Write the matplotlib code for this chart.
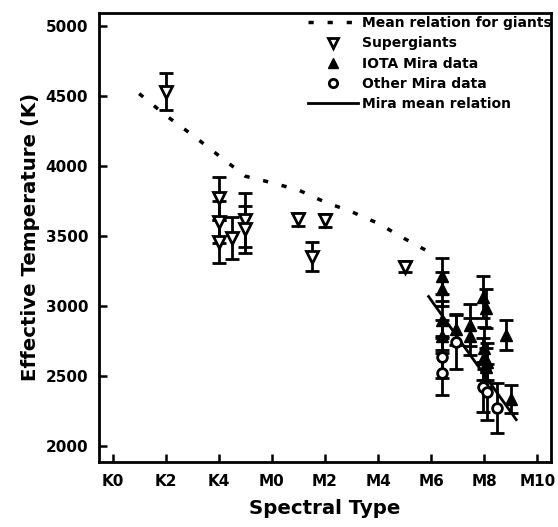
import matplotlib
matplotlib.use("Agg")
import matplotlib.pyplot as plt
from matplotlib.lines import Line2D

plt.rcParams['font.family'] = ['DejaVu Sans']
plt.rcParams['font.weight'] = 'bold'

# Spectral type axis: K0=0 ... K5=5, M0=6 ... M10=16
tick_pos = [0, 2, 4, 6, 8, 10, 12, 14, 16]
tick_labels = ["K0", "K2", "K4", "M0", "M2", "M4", "M6", "M8", "M10"]
ytick_vals = [2000, 2500, 3000, 3500, 4000, 4500, 5000]

# Mean relation for giants
giant_x = [1, 2, 3, 4, 5, 6, 7, 8, 9, 10, 11, 12]
giant_t = [4515, 4360, 4220, 4072, 3925, 3878, 3826, 3740, 3671, 3588, 3478, 3375]

# Supergiants
sg_x = [2.0, 4.0, 4.0, 4.0, 4.5, 5.0, 5.0, 7.0, 7.5, 8.0, 11.0]
sg_t = [4530, 3767, 3600, 3457, 3481, 3612, 3545, 3617, 3350, 3610, 3279]
sg_e = [135, 155, 150, 155, 150, 190, 170, 45, 105, 45, 40]

# IOTA Mira data
iota_x = [12.4, 12.4, 12.4, 12.4, 12.95, 13.45, 13.45, 13.95, 13.95, 14.05, 14.05, 14.0, 14.1, 14.8, 15.0]
iota_t = [3210, 3120, 2900, 2780, 2830, 2860, 2780, 3060, 2620, 2980, 2560, 2700, 2600, 2790, 2330]
iota_e = [130, 120, 130, 120, 110, 150, 130, 150, 150, 140, 140, 150, 130, 110, 100]

# Other Mira data
om_x = [12.4, 12.4, 12.95, 13.95, 14.1, 14.46]
om_t = [2630, 2520, 2740, 2420, 2380, 2270]
om_e = [150, 160, 190, 180, 200, 180]

# Mira mean relation
mira_x = [11.9, 15.2]
mira_t = [3065, 2185]

dot_style = (0, (1.5, 4))

fig = plt.figure(figsize=(5.58, 5.27), dpi=100)
ax = fig.add_axes([0.178, 0.124, 0.809, 0.851])

ax.plot(giant_x, giant_t, color='black', lw=2.5, linestyle=dot_style,
        dash_capstyle='butt')

eb_kw = dict(fmt='none', ecolor='black', elinewidth=2, capsize=4.7, capthick=2, zorder=2)
ax.errorbar(sg_x, sg_t, yerr=sg_e, **eb_kw)
ax.errorbar(iota_x, iota_t, yerr=iota_e, **eb_kw)
ax.errorbar(om_x, om_t, yerr=om_e, **eb_kw)

ax.plot(mira_x, mira_t, color='black', lw=2, zorder=3)

ax.plot(sg_x, sg_t, linestyle='none', marker='v', ms=8, mfc='white', mec='black', mew=2, zorder=4)
ax.plot(iota_x, iota_t, linestyle='none', marker='^', ms=8, mfc='black', mec='black', mew=1, zorder=4)
ax.plot(om_x, om_t, linestyle='none', marker='o', ms=7, mfc='white', mec='black', mew=2, zorder=4)

ax.set_xlim(-0.5, 16.5)
ax.set_ylim(1885, 5090)
ax.set_xticks(tick_pos)
ax.set_xticklabels(tick_labels)
ax.set_yticks(ytick_vals)
ax.tick_params(direction='in', length=6, width=1.8, labelsize=11)
ax.tick_params(axis='x', pad=9)
ax.tick_params(axis='y', pad=8)
for lab in ax.get_xticklabels() + ax.get_yticklabels():
    lab.set_fontweight('bold')
for s in ax.spines.values():
    s.set_linewidth(2)

ax.set_xlabel("Spectral Type", fontsize=14.2, fontweight='bold', labelpad=7)
ax.set_ylabel("Effective Temperature (K)", fontsize=14.2, fontweight='bold', labelpad=4)

handles = [
    Line2D([], [], color='black', lw=2.5, linestyle=dot_style, dash_capstyle='butt'),
    Line2D([], [], linestyle='none', marker='v', ms=7, mfc='white', mec='black', mew=2),
    Line2D([], [], linestyle='none', marker='^', ms=7, mfc='black', mec='black'),
    Line2D([], [], linestyle='none', marker='o', ms=6, mfc='white', mec='black', mew=2),
    Line2D([], [], color='black', lw=2),
]
labels = ["Mean relation for giants", "Supergiants", "IOTA Mira data",
          "Other Mira data", "Mira mean relation"]
leg = ax.legend(handles, labels, loc='upper right', bbox_to_anchor=(1.02, 1.012),
                frameon=False, fontsize=10, handlelength=3.6, handletextpad=0.3,
                labelspacing=0.45, borderaxespad=0.2)
for t in leg.get_texts():
    t.set_fontweight('bold')

fig.savefig("out.png", dpi=100)
